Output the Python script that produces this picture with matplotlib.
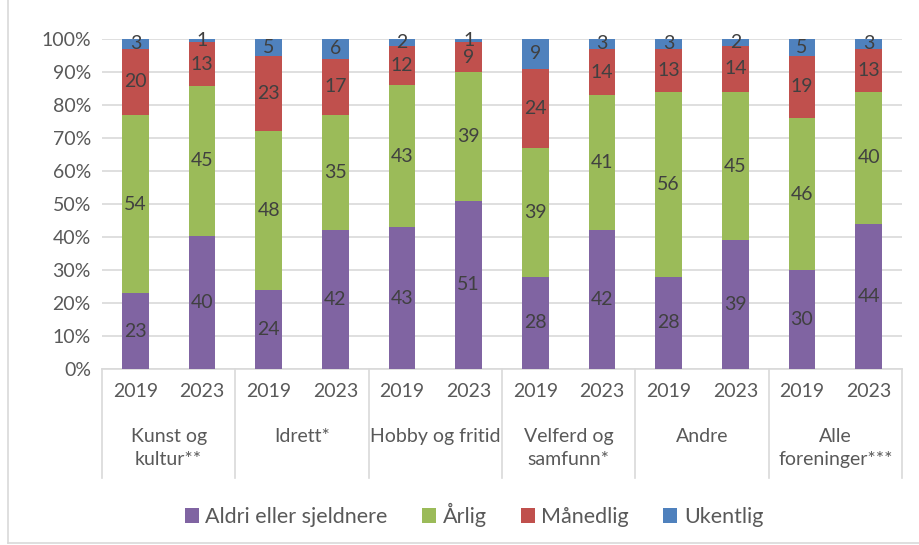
import matplotlib
matplotlib.use("Agg")
import matplotlib.pyplot as plt
import matplotlib.transforms as mtransforms
from matplotlib.lines import Line2D
from matplotlib.patches import Patch
import numpy as np

plt.rcParams['font.family'] = ['Lato', 'DejaVu Sans']

categories = ["Kunst og\nkultur**", "Idrett*", "Hobby og fritid", "Velferd og\nsamfunn*", "Andre", "Alle\nforeninger***"]
years = ["2019", "2023"]
series_names = ["Aldri eller sjeldnere", "Årlig", "Månedlig", "Ukentlig"]
aldri    = [23, 40, 24, 42, 43, 51, 28, 42, 28, 39, 30, 44]
arlig    = [54, 45, 48, 35, 43, 39, 39, 41, 56, 45, 46, 40]
manedlig = [20, 13, 23, 17, 12, 9, 24, 14, 13, 14, 19, 13]
ukentlig = [3, 1, 5, 6, 2, 1, 9, 3, 3, 2, 5, 3]
colors = ["#8064A2", "#9BBB59", "#C0504D", "#4F81BD"]

data = np.array([aldri, arlig, manedlig, ukentlig], dtype=float)
totals = data.sum(axis=0)
shares = data / totals * 100

fig = plt.figure(figsize=(9.19, 5.45), dpi=100)
ax = fig.add_axes([102/919, 1-369/545, 800/919, 330/545])

n = data.shape[1]
x = np.arange(n)
bottom = np.zeros(n)
for k in range(4):
    ax.bar(x, shares[k], 0.4, bottom=bottom, color=colors[k], zorder=3)
    for i in range(n):
        ax.text(x[i], bottom[i] + shares[k][i] / 2, f"{int(data[k][i])}",
                ha='center', va='center', fontsize=14, color='#404040', zorder=4)
    bottom += shares[k]

ax.set_xlim(-0.5, n - 0.5)
ax.set_ylim(0, 100)
ax.set_yticks(np.arange(0, 101, 10))
ax.set_yticklabels([f"{v}%" for v in range(0, 101, 10)], fontsize=14, color='#595959')
ax.yaxis.grid(True, color='#D9D9D9', linewidth=1.2, zorder=0)
ax.set_axisbelow(True)
for s in ['left', 'right', 'top']:
    ax.spines[s].set_visible(False)
ax.spines['bottom'].set_color('#D9D9D9')
ax.spines['bottom'].set_linewidth(1.2)
ax.tick_params(axis='y', length=0, pad=8)
ax.set_xticks(x)
ax.set_xticklabels(years * len(categories), fontsize=14, color='#595959')
ax.tick_params(axis='x', length=0, pad=10)

trans = mtransforms.blended_transform_factory(ax.transData, ax.transAxes)
label_h = (478 - 369) / 330
for g in range(len(categories) + 1):
    xb = g * 2 - 0.5
    ax.add_line(Line2D([xb, xb], [0, -label_h], transform=trans, color='#D9D9D9',
                       linewidth=1.2, clip_on=False))
for g, cat in enumerate(categories):
    ax.text(g * 2 + 0.5, -(428 - 369) / 330, cat, transform=trans, ha='center', va='top',
            fontsize=14, color='#595959', linespacing=1.45)

handles = [Patch(facecolor=c, edgecolor='none') for c in colors]
fig.legend(handles, series_names, loc='center', bbox_to_anchor=(474/919, 1-515/545), ncol=4,
           frameon=False, fontsize=15.5, handlelength=0.65, handleheight=0.65,
           handletextpad=0.3, columnspacing=1.6, labelcolor='#595959')

fig.add_artist(Line2D([8/919, 8/919], [2/545, 1], transform=fig.transFigure, color='#D9D9D9', linewidth=1.2))
fig.add_artist(Line2D([8/919, 1], [2/545, 2/545], transform=fig.transFigure, color='#D9D9D9', linewidth=1.2))

fig.savefig("out.png", dpi=100)
